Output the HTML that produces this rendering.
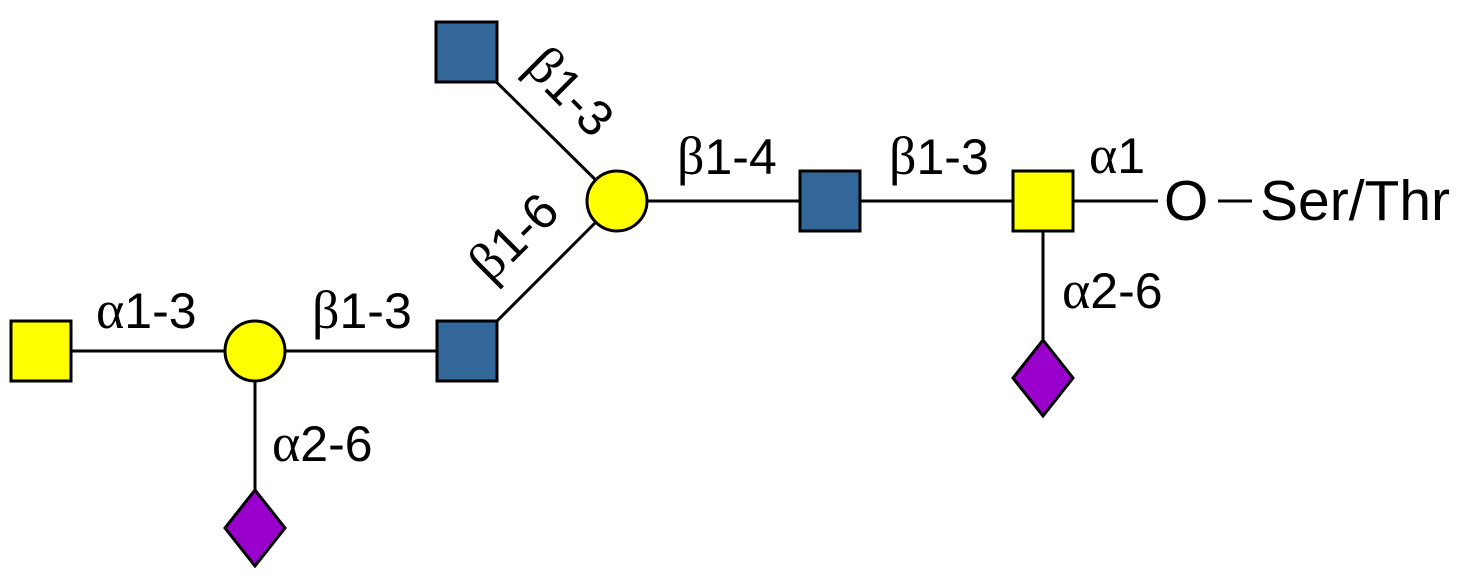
<!DOCTYPE html>
<html><head><meta charset="utf-8"><style>html,body{margin:0;padding:0;background:#fff}svg{display:block}</style></head>
<body>
<svg width="1466" height="580" viewBox="0 0 1466 580" xmlns="http://www.w3.org/2000/svg" font-family="Liberation Sans, sans-serif">
<g stroke="#000" stroke-width="3" fill="none">
<line x1="466" y1="52" x2="617" y2="201"/>
<line x1="617" y1="201" x2="830" y2="201"/>
<line x1="830" y1="201" x2="1043" y2="201"/>
<line x1="1043" y1="201" x2="1158" y2="201"/>
<line x1="1218" y1="201" x2="1252" y2="201"/>
<line x1="1043" y1="201" x2="1043" y2="378"/>
<line x1="617" y1="201" x2="467" y2="351"/>
<line x1="41" y1="351" x2="467" y2="351"/>
<line x1="255" y1="351" x2="255" y2="528"/>
</g>
<g stroke="#000" stroke-width="3">
<rect x="436" y="22" width="61" height="60" fill="#336699"/>
<rect x="800" y="171" width="60" height="60" fill="#336699"/>
<rect x="1013" y="171" width="60" height="60" fill="#ffff00"/>
<rect x="437" y="321" width="60" height="60" fill="#336699"/>
<rect x="11" y="321" width="60" height="60" fill="#ffff00"/>
<circle cx="617" cy="201" r="30" fill="#ffff00"/>
<circle cx="255" cy="351" r="30" fill="#ffff00"/>
<polygon points="1043,340 1073,378 1043,416 1013,378" fill="#9900cc"/>
<polygon points="255,490 285,528 255,566 225,528" fill="#9900cc"/>
</g>
<g font-size="50" fill="#000">
<text x="677" y="174"><tspan font-family="Liberation Serif, serif" font-size="54">β</tspan>1-4</text>
<text x="889" y="174"><tspan font-family="Liberation Serif, serif" font-size="54">β</tspan>1-3</text>
<text x="1089" y="173"><tspan font-family="Liberation Serif, serif" font-size="54">α</tspan>1</text>
<text x="1062" y="308"><tspan font-family="Liberation Serif, serif" font-size="54">α</tspan>2-6</text>
<text x="96" y="328"><tspan font-family="Liberation Serif, serif" font-size="54">α</tspan>1-3</text>
<text x="312" y="328"><tspan font-family="Liberation Serif, serif" font-size="54">β</tspan>1-3</text>
<text x="272" y="461"><tspan font-family="Liberation Serif, serif" font-size="54">α</tspan>2-6</text>
<text x="567" y="95" text-anchor="middle" dominant-baseline="middle" transform="rotate(45 567 95)"><tspan font-family="Liberation Serif, serif" font-size="54">β</tspan>1-3</text>
<text x="517" y="240" text-anchor="middle" dominant-baseline="middle" transform="rotate(-45 517 240)"><tspan font-family="Liberation Serif, serif" font-size="54">β</tspan>1-6</text>
</g>
<g font-size="57" fill="#000">
<text x="1164" y="220">O</text>
<text x="1260" y="220">Ser/Thr</text>
</g>
</svg>
</body></html>
